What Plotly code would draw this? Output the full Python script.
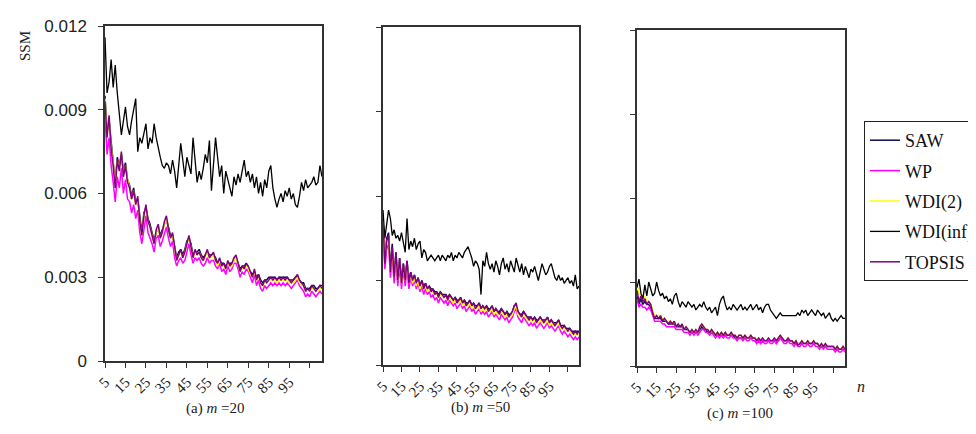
import plotly.graph_objects as go

# ---------------- data (SSM values, in units of 1e-4) ----------------
N_START = 5
SERIES = ["SAW", "WP", "WDI(2)", "WDI(inf)", "TOPSIS"]
COLORS = ["#0a0a50", "#ff00ff", "#ffff00", "#000000", "#800080"]

# panel (a) m = 20
a_saw = [95, 82, 86, 78, 72, 64, 73, 70, 74, 68,
         71, 65, 63, 59, 62, 57, 58, 51, 46, 53,
         55, 51, 49, 46, 43, 46, 48, 45, 47, 49,
         51, 48, 45, 45, 41, 37, 39, 40, 38, 40,
         43, 44, 42, 38, 39, 39, 40, 38, 37, 38,
         39, 38, 38, 38, 37, 35, 36, 35, 35, 34,
         35, 35, 35, 36, 37, 35, 33, 34, 34, 35,
         33, 32, 31, 32, 30, 31, 29, 28, 29, 29,
         30, 30, 30, 30, 29, 30, 30, 30, 30, 30,
         29, 29, 29, 30, 30, 29, 28, 28, 26, 26,
         26, 27, 27, 26, 26, 27, 27]
a_wp = [88, 74, 80, 70, 64, 57, 66, 62, 69, 60,
        65, 58, 57, 53, 56, 51, 54, 46, 42, 48,
        52, 46, 44, 42, 39, 44, 45, 41, 43, 46,
        48, 44, 41, 43, 37, 34, 36, 37, 35, 36,
        39, 42, 38, 35, 37, 36, 37, 35, 34, 35,
        37, 35, 36, 36, 34, 33, 35, 32, 33, 31,
        34, 32, 33, 35, 35, 33, 30, 32, 31, 33,
        32, 30, 28, 31, 27, 29, 26, 25, 27, 26,
        27, 28, 27, 28, 27, 28, 27, 28, 27, 28,
        27, 26, 27, 28, 29, 27, 26, 25, 23, 24,
        23, 25, 24, 23, 24, 25, 24]
a_wdi2 = [94, 81, 87, 77, 71, 63, 72, 69, 74, 67,
          70, 65, 62, 58, 61, 56, 58, 50, 45, 52,
          55, 50, 48, 45, 42, 46, 48, 44, 46, 49,
          51, 47, 44, 45, 40, 36, 38, 39, 37, 39,
          42, 44, 41, 37, 39, 38, 39, 37, 36, 37,
          39, 37, 37, 38, 36, 34, 36, 34, 34, 33,
          35, 34, 34, 36, 37, 34, 32, 33, 33, 34,
          33, 31, 30, 32, 29, 30, 28, 27, 28, 28,
          29, 29, 29, 29, 28, 29, 29, 29, 29, 29,
          28, 28, 28, 29, 30, 28, 27, 27, 25, 25,
          25, 26, 26, 25, 25, 26, 26]
a_wdiinf = [116, 96, 100, 108, 98, 106, 96, 88, 81, 86,
            91, 84, 81, 86, 90, 94, 75, 80, 78, 82,
            85, 76, 80, 78, 85, 80, 76, 73, 70, 69,
            71, 70, 67, 72, 68, 62, 70, 78, 72, 66,
            73, 70, 67, 80, 72, 64, 68, 65, 69, 74,
            71, 79, 61, 70, 80, 73, 66, 70, 60, 68,
            65, 62, 59, 66, 63, 67, 64, 68, 72, 66,
            68, 64, 67, 62, 66, 60, 64, 59, 65, 62,
            68, 70, 62, 58, 55, 58, 60, 57, 61, 59,
            62, 58, 60, 56, 55, 59, 64, 61, 65, 62,
            63, 64, 66, 63, 64, 70, 66]
a_topsis = [93, 80, 88, 76, 70, 62, 72, 68, 75, 66,
            70, 64, 62, 58, 61, 56, 59, 50, 45, 52,
            56, 50, 48, 45, 42, 47, 49, 44, 46, 50,
            52, 47, 44, 46, 40, 36, 38, 40, 37, 39,
            42, 45, 41, 37, 40, 38, 39, 37, 36, 38,
            40, 37, 38, 39, 36, 35, 37, 34, 35, 33,
            36, 34, 35, 37, 38, 35, 32, 34, 33, 35,
            34, 32, 30, 33, 29, 31, 28, 27, 29, 28,
            29, 30, 29, 30, 29, 30, 29, 30, 29, 30,
            29, 28, 29, 30, 31, 29, 28, 27, 25, 26,
            25, 27, 26, 25, 26, 27, 26]

# panel (b) m = 50
b_saw = [52, 38, 45, 47, 34, 43, 32, 40, 31, 38,
         30, 36, 31, 37, 30, 33, 30, 32, 29, 31,
         28, 30, 28, 29, 27, 28, 27, 27, 26, 26,
         25, 26, 25, 25, 25, 24, 25, 24, 23, 24,
         23, 23, 24, 22, 23, 22, 22, 23, 21, 22,
         21, 21, 22, 20, 21, 20, 21, 20, 20, 21,
         19, 20, 19, 19, 20, 19, 18, 19, 18, 18,
         19, 21, 21, 19, 18, 18, 19, 18, 17, 17,
         17, 16, 17, 16, 16, 17, 16, 16, 16, 17,
         15, 16, 15, 15, 15, 16, 14, 14, 14, 13,
         13, 13, 12, 12, 12, 12, 12]
b_wp = [48, 34, 41, 43, 31, 39, 29, 37, 28, 35,
        27, 34, 28, 34, 27, 31, 28, 30, 27, 29,
        26, 28, 25, 27, 25, 26, 24, 25, 23, 24,
        22, 24, 23, 22, 23, 21, 23, 22, 21, 22,
        20, 21, 22, 20, 21, 19, 20, 21, 19, 20,
        18, 19, 20, 18, 19, 18, 19, 17, 18, 19,
        17, 18, 17, 16, 18, 17, 16, 17, 15, 16,
        17, 19, 20, 17, 16, 15, 17, 16, 15, 14,
        15, 14, 15, 13, 14, 15, 14, 13, 14, 15,
        13, 14, 13, 12, 13, 14, 12, 11, 12, 11,
        10, 11, 10, 9, 10, 9, 10]
b_wdi2 = [50, 37, 44, 45, 33, 41, 31, 39, 30, 37,
          29, 35, 30, 36, 29, 32, 29, 31, 28, 30,
          27, 29, 27, 28, 26, 27, 26, 26, 25, 25,
          24, 25, 24, 24, 24, 23, 24, 23, 22, 23,
          22, 22, 23, 21, 22, 21, 21, 22, 20, 21,
          20, 20, 21, 19, 20, 19, 20, 19, 19, 20,
          18, 19, 18, 18, 19, 18, 17, 18, 17, 17,
          18, 20, 21, 18, 17, 17, 18, 17, 16, 16,
          16, 15, 16, 15, 15, 16, 15, 15, 15, 16,
          14, 15, 14, 14, 14, 15, 13, 13, 13, 12,
          12, 12, 11, 11, 11, 11, 11]
b_wdiinf = [55, 45, 50, 55, 52, 46, 48, 45, 46, 44,
            47, 43, 40, 52, 41, 44, 42, 45, 41, 43,
            44, 38, 41, 40, 37, 38, 39, 38, 37, 38,
            39, 37, 39, 38, 37, 39, 38, 40, 37, 39,
            38, 40, 39, 38, 40, 41, 42, 40, 38, 35,
            37, 36, 34, 25, 37, 35, 40, 36, 34, 36,
            33, 37, 35, 32, 36, 38, 34, 36, 33, 37,
            35, 33, 38, 35, 33, 36, 32, 35, 33, 31,
            34, 33, 35, 32, 30, 33, 36, 34, 32, 33,
            35, 36, 33, 31, 30, 32, 30, 31, 29, 30,
            31, 29, 30, 28, 32, 27, 28]
b_topsis = [51, 36, 44, 46, 33, 42, 31, 40, 30, 38,
            29, 36, 30, 37, 29, 33, 30, 32, 29, 31,
            28, 30, 27, 29, 27, 28, 26, 27, 25, 26,
            24, 26, 25, 24, 25, 23, 25, 24, 23, 24,
            22, 23, 24, 22, 23, 21, 22, 23, 21, 22,
            20, 21, 22, 20, 21, 20, 21, 19, 20, 21,
            19, 20, 19, 18, 20, 19, 18, 19, 17, 18,
            19, 21, 22, 19, 18, 17, 19, 18, 17, 16,
            17, 16, 17, 15, 16, 17, 16, 15, 16, 17,
            15, 16, 15, 14, 15, 16, 14, 13, 14, 13,
            12, 13, 12, 11, 12, 11, 12]

# panel (c) m = 100
c_saw = [25, 22, 24, 22, 23, 22, 22, 21, 19, 17,
         17, 17, 17, 16, 16, 16, 15, 15, 15, 15,
         14, 14, 14, 14, 13, 13, 13, 12, 12, 12,
         12, 12, 13, 14, 13, 13, 12, 12, 12, 12,
         11, 11, 11, 11, 11, 11, 11, 11, 11, 11,
         10, 10, 10, 10, 10, 10, 10, 10, 10, 10,
         10, 9, 9, 9, 9, 9, 9, 9, 9, 9,
         9, 9, 9, 10, 10, 9, 9, 9, 9, 9,
         8, 8, 8, 8, 8, 8, 8, 8, 8, 8,
         8, 8, 8, 7, 7, 7, 7, 7, 7, 7,
         7, 6, 6, 6, 6, 6, 6]
c_wp = [24, 21, 22, 21, 21, 20, 21, 20, 18, 16,
        16, 16, 16, 15, 15, 14, 14, 14, 14, 14,
        13, 13, 13, 13, 12, 12, 12, 11, 12, 11,
        12, 11, 12, 13, 13, 12, 12, 11, 12, 11,
        10, 11, 10, 11, 10, 11, 10, 10, 11, 10,
        10, 9, 10, 10, 9, 10, 9, 9, 10, 9,
        9, 8, 9, 8, 9, 8, 8, 9, 8, 8,
        9, 8, 9, 10, 9, 8, 8, 9, 8, 8,
        7, 8, 7, 7, 8, 7, 7, 8, 7, 7,
        8, 7, 7, 6, 7, 6, 7, 6, 6, 6,
        6, 5, 6, 5, 5, 6, 5]
c_wdi2 = [29, 26, 25, 24, 25, 23, 23, 22, 20, 18,
          18, 18, 18, 17, 17, 16, 16, 16, 15, 16,
          14, 15, 14, 15, 13, 14, 13, 12, 13, 12,
          13, 12, 14, 15, 14, 13, 13, 12, 13, 12,
          11, 12, 11, 12, 11, 12, 11, 11, 12, 11,
          11, 10, 11, 11, 10, 11, 10, 10, 11, 10,
          10, 9, 10, 9, 10, 9, 9, 10, 9, 9,
          10, 9, 10, 11, 10, 9, 9, 10, 9, 9,
          8, 9, 8, 8, 9, 8, 8, 9, 8, 8,
          9, 8, 8, 7, 8, 7, 8, 7, 7, 7,
          7, 6, 7, 6, 6, 7, 6]
c_wdiinf = [28, 31, 26, 24, 29, 25, 30, 27, 25, 26,
            30, 27, 25, 26, 24, 25, 23, 24, 22, 25,
            26, 23, 21, 23, 22, 21, 23, 22, 21, 22,
            20, 21, 22, 21, 23, 21, 20, 21, 19, 20,
            21, 18, 22, 24, 25, 22, 20, 21, 20, 22,
            21, 20, 21, 22, 20, 21, 20, 21, 22, 20,
            21, 22, 20, 21, 19, 21, 22, 22, 20, 19,
            18, 17, 18, 19, 18, 18, 18, 18, 18, 18,
            18, 18, 19, 18, 20, 19, 20, 18, 19, 20,
            19, 18, 20, 19, 18, 19, 17, 18, 19, 17,
            16, 17, 16, 17, 18, 17, 17]
c_topsis = [27, 23, 25, 23, 24, 22, 23, 22, 19, 17,
            18, 17, 18, 16, 17, 16, 15, 16, 15, 16,
            14, 15, 14, 15, 13, 14, 13, 12, 13, 12,
            13, 12, 14, 15, 14, 13, 13, 12, 13, 12,
            11, 12, 11, 12, 11, 12, 11, 11, 12, 11,
            11, 10, 11, 11, 10, 11, 10, 10, 11, 10,
            10, 9, 10, 9, 10, 9, 9, 10, 9, 9,
            10, 9, 10, 11, 10, 9, 9, 10, 9, 9,
            8, 9, 7.5, 8, 9, 8, 8, 9, 8, 8,
            9, 8, 8, 7, 8, 7, 8, 7, 7, 7,
            7, 6, 7, 6, 6, 7, 6]

UNIT = 1e-4
X_TICKS = [5, 15, 25, 35, 45, 55, 65, 75, 85, 95, 105]
X_TICK_TEXT = ["5", "15", "25", "35", "45", "55", "65", "75", "85", "95", ""]
Y_TICKS = [0, 0.003, 0.006, 0.009, 0.012]
Y_TICK_TEXT = ["0", "0.003", "0.006", "0.009", "0.012"]
PANEL_TITLES = ["(a) <i>m</i> =20", "(b) <i>m</i> =50", "(c) <i>m</i> =100"]

panels = [
    [a_saw, a_wp, a_wdi2, a_wdiinf, a_topsis],
    [b_saw, b_wp, b_wdi2, b_wdiinf, b_topsis],
    [c_saw, c_wp, c_wdi2, c_wdiinf, c_topsis],
]

W, H = 976, 434
# pixel boxes of plot areas: (left, right, top, bottom)
boxes = [(97, 314, 18, 353), (375, 571, 19, 357), (629, 837, 22, 358)]

SERIF = "Times New Roman, Liberation Serif, serif"
SANS = "Arial, Liberation Sans, sans-serif"

fig = go.Figure()
for p, series_list in enumerate(panels):
    suffix = "" if p == 0 else str(p + 1)
    for s, vals in enumerate(series_list):
        xs = list(range(N_START, N_START + len(vals)))
        ys = [v * UNIT for v in vals]
        fig.add_trace(go.Scatter(
            x=xs, y=ys, mode="lines", name=SERIES[s],
            line=dict(color=COLORS[s], width=1.5 if s != 3 else 1.3),
            xaxis="x" + suffix, yaxis="y" + suffix,
            showlegend=(p == 0), legendgroup=SERIES[s],
        ))

layout = dict(
    width=W, height=H,
    margin=dict(l=0, r=0, t=0, b=0, autoexpand=False),
    paper_bgcolor="white", plot_bgcolor="white",
    showlegend=True,
    legend=dict(
        x=856 / W, y=1 - 113 / H, xanchor="left", yanchor="top",
        bordercolor="#222", borderwidth=1, bgcolor="white",
        font=dict(family=SERIF, size=18, color="#111"),
        tracegroupgap=4,
    ),
)

for p, (l, r, t, b) in enumerate(boxes):
    suffix = "" if p == 0 else str(p + 1)
    xa = dict(
        domain=[l / W, r / W], range=[5, 111],
        tickmode="array", tickvals=X_TICKS, ticktext=X_TICK_TEXT,
        tickangle=-45, ticks="outside", ticklen=5, tickwidth=1, tickcolor="#333",
        showline=True, linecolor="#333", linewidth=1.5, mirror=True,
        showgrid=False, zeroline=False, automargin=False,
        tickfont=dict(family=SERIF, size=15, color="#222"),
        anchor="y" + suffix,
    )
    ya = dict(
        domain=[1 - b / H, 1 - t / H], range=[0, 0.012],
        tickmode="array", tickvals=Y_TICKS, ticktext=Y_TICK_TEXT,
        ticks="outside", ticklen=5, tickwidth=1, tickcolor="#333",
        showline=True, linecolor="#333", linewidth=1.5, mirror=True,
        showgrid=False, zeroline=False, showticklabels=(p == 0), automargin=False,
        tickfont=dict(family=SANS, size=17, color="#222"), ticklabelstandoff=8,
        anchor="x" + suffix,
    )
    layout["xaxis" + suffix] = xa
    layout["yaxis" + suffix] = ya


def label(text, px, py, size=14, angle=0):
    return dict(text=text, x=px / W, y=1 - py / H, xref="paper", yref="paper",
                xanchor="center", yanchor="middle", textangle=angle,
                showarrow=False, font=dict(family=SERIF, size=size, color="#222"))


layout["annotations"] = [
    label("SSM", 17, 38, 15, -90),
    label(PANEL_TITLES[0], 207, 400, 15),
    label(PANEL_TITLES[1], 472, 399, 15),
    label(PANEL_TITLES[2], 732, 405, 15),
    label("<i>n</i>", 853, 378, 16),
]

fig.update_layout(**layout)
fig.write_html("out.html")
